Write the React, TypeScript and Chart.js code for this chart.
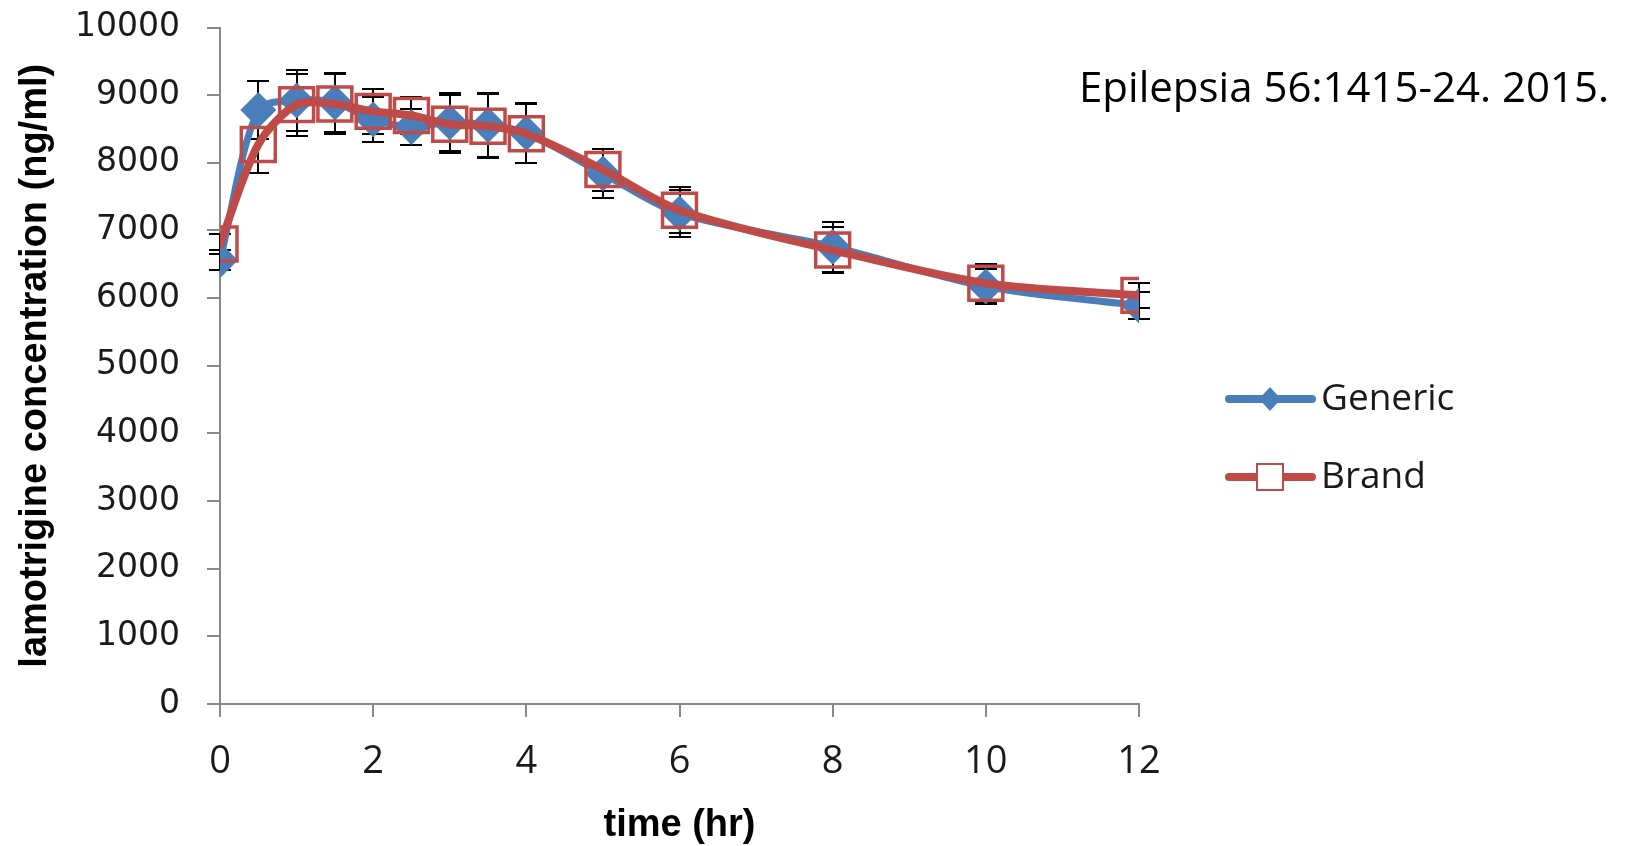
import React, { useEffect, useRef } from "react";
import { Chart, registerables } from "chart.js";

Chart.register(...registerables);

// ---- data ----
const times = [0, 0.5, 1, 1.5, 2, 2.5, 3, 3.5, 4, 5, 6, 8, 10, 12];
const genericMean = [6560, 8780, 8920, 8890, 8640, 8530, 8600, 8560, 8440, 7840, 7250, 6760, 6170, 5890];
const brandMean = [6800, 8270, 8860, 8870, 8760, 8700, 8570, 8540, 8430, 7900, 7300, 6710, 6220, 6040];
const genericSD = [150, 430, 450, 440, 336, 260, 430, 470, 440, 360, 345, 370, 260, 200];
const brandSD = [150, 415, 460, 440, 330, 270, 430, 470, 440, 310, 340, 340, 290, 180];
const seriesNames = ["Generic", "Brand"];
const xTitle = "time (hr)";
const yTitle = "lamotrigine concentration (ng/ml)";
const citation = "Epilepsia 56:1415-24. 2015.";
const xMin = 0, xMax = 12, xStep = 2;
const yMin = 0, yMax = 10000, yStep = 1000;

const BLUE = "#4A7EBB";
const RED = "#BE4B48";
const AXIS = "#888888";

const errorBarPlugin = {
  id: "errorBars",
  beforeDatasetsDraw(chart: any) {
    const { ctx, scales } = chart;
    const x = scales.x, y = scales.y;
    ctx.save();
    ctx.strokeStyle = "#000";
    ctx.lineWidth = 2;
    const sets: [number[], number[]][] = [[genericMean, genericSD], [brandMean, brandSD]];
    sets.forEach(([m, sd]) => {
      times.forEach((t, i) => {
        const px = Math.round(x.getPixelForValue(t));
        const top = Math.round(y.getPixelForValue(m[i] + sd[i]));
        const bot = Math.round(y.getPixelForValue(m[i] - sd[i]));
        ctx.beginPath();
        ctx.moveTo(px, top);
        ctx.lineTo(px, bot);
        ctx.moveTo(px - 11, top);
        ctx.lineTo(px + 11, top);
        ctx.moveTo(px - 11, bot);
        ctx.lineTo(px + 11, bot);
        ctx.stroke();
      });
    });
    ctx.restore();
  },
};

const legendPlugin = {
  id: "customLegend",
  afterDraw(chart: any) {
    const { ctx } = chart;
    ctx.save();
    const rows = [399, 477];
    chart.data.datasets.forEach((ds: any, i: number) => {
      const y = rows[i];
      ctx.strokeStyle = ds.borderColor;
      ctx.lineWidth = 8;
      ctx.lineCap = "round";
      ctx.beginPath();
      ctx.moveTo(1229, y);
      ctx.lineTo(1312, y);
      ctx.stroke();
      const cx = 1270;
      if (i === 0) {
        ctx.fillStyle = ds.borderColor;
        ctx.beginPath();
        ctx.moveTo(cx, y - 12);
        ctx.lineTo(cx + 11, y);
        ctx.lineTo(cx, y + 12);
        ctx.lineTo(cx - 11, y);
        ctx.closePath();
        ctx.fill();
      } else {
        ctx.fillStyle = "#fff";
        ctx.fillRect(cx - 13, y - 13, 26, 26);
        ctx.strokeStyle = ds.borderColor;
        ctx.lineWidth = 2;
        ctx.strokeRect(cx - 13, y - 13, 26, 26);
      }
      ctx.fillStyle = "#1a1a1a";
      ctx.font = "37px 'Open Sans'";
      ctx.textAlign = "left";
      ctx.textBaseline = "middle";
      ctx.fillText(ds.label, 1321, y);
    });
    ctx.fillStyle = "#000";
    ctx.font = "42px 'Open Sans'";
    ctx.textAlign = "left";
    ctx.textBaseline = "middle";
    ctx.fillText(citation, 1079, 90);
    ctx.restore();
  },
};

export default function App() {
  const ref = useRef<HTMLCanvasElement | null>(null);
  useEffect(() => {
    if (!ref.current) return;
    const chart = new Chart(ref.current, {
      type: "line",
      data: {
        datasets: [
          {
            label: seriesNames[0],
            data: times.map((t, i) => ({ x: t, y: genericMean[i] })),
            order: 2,
            borderColor: BLUE,
            backgroundColor: BLUE,
            borderWidth: 7,
            tension: 0.3,
            borderCapStyle: "round",
            borderJoinStyle: "round",
            pointStyle: "rectRot",
            pointRadius: 18,
            pointBorderWidth: 0,
            pointBackgroundColor: BLUE,
          },
          {
            label: seriesNames[1],
            data: times.map((t, i) => ({ x: t, y: brandMean[i] })),
            order: 1,
            borderColor: RED,
            backgroundColor: RED,
            borderWidth: 8,
            tension: 0.3,
            borderCapStyle: "round",
            borderJoinStyle: "round",
            pointStyle: "rect",
            pointRadius: 24,
            pointBorderWidth: 3.5,
            pointBorderColor: RED,
            pointBackgroundColor: "rgba(0,0,0,0)",
          },
        ],
      },
      options: {
        responsive: false,
        animation: false,
        devicePixelRatio: 1,
        layout: { padding: { left: 0, top: 22, right: 492, bottom: 0 } },
        plugins: { legend: { display: false }, tooltip: { enabled: false }, title: { display: false } },
        scales: {
          x: {
            type: "linear",
            min: xMin,
            max: xMax,
            ticks: { stepSize: xStep, padding: 22, color: "#1a1a1a", font: { family: "'Open Sans'", size: 38 } },
            grid: { display: true, drawOnChartArea: false, drawTicks: true, tickLength: 13, color: AXIS, lineWidth: 2 },
            border: { display: true, color: AXIS, width: 2 },
            title: { display: true, text: xTitle, color: "#000", padding: { top: 0, bottom: 1 }, font: { family: "'Liberation Sans'", size: 38, weight: "bold", lineHeight: 1 } },
            afterFit: (s: any) => { s.height = 142; s.paddingLeft = 0; s.paddingRight = 0; },
          },
          y: {
            type: "linear",
            min: yMin,
            max: yMax,
            ticks: { stepSize: yStep, padding: 27, color: "#1a1a1a", font: { family: "'DejaVu Sans'", size: 33 }, callback: (v: any) => String(v) },
            grid: { display: true, drawOnChartArea: false, drawTicks: true, tickLength: 13, color: AXIS, lineWidth: 2 },
            border: { display: true, color: AXIS, width: 2 },
            title: { display: true, text: yTitle, color: "#000", padding: { top: 13, bottom: 0 }, font: { family: "'Liberation Sans'", size: 38, weight: "bold" } },
            afterFit: (s: any) => { s.width = 220; s.paddingTop = 0; s.paddingBottom = 0; },
          },
        },
      },
      plugins: [errorBarPlugin, legendPlugin],
    } as any);
    return () => chart.destroy();
  }, []);
  return (
    <div style={{ position: "absolute", left: 0, top: 0, width: 1631, height: 846, background: "#fff" }}>
      <canvas ref={ref} width={1631} height={846} style={{ width: 1631, height: 846, display: "block" }} />
    </div>
  );
}
